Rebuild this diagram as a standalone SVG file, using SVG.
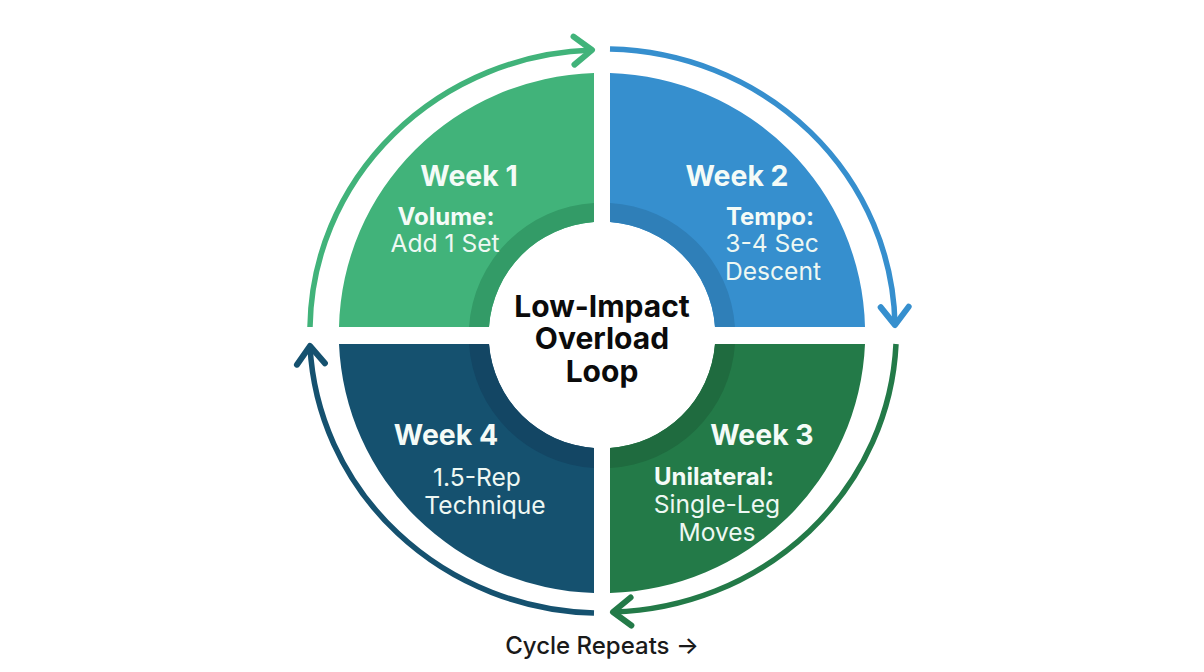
<svg xmlns="http://www.w3.org/2000/svg" width="1204" height="672" viewBox="0 0 1204 672">
<defs>
<style>
text{font-family:Inter,"Liberation Sans",sans-serif;text-anchor:middle}
.wk{font-size:28.4px;font-weight:700;fill:#f4fbf7}
.hd{font-size:24px;font-weight:700;fill:#f4fbf7}
.bd{font-size:24.6px;font-weight:400;fill:#eef8f3}
.ct{font-size:30px;font-weight:700;fill:#0b0b0b}
.cy{font-size:24px;font-weight:500;fill:#1a1a1a}
.arc{fill:none;stroke-width:5.5}
.hdp{fill:none;stroke-width:6;stroke-linecap:round;stroke-linejoin:round}
</style>
<marker id="mg" markerUnits="userSpaceOnUse" markerWidth="30" markerHeight="40" refX="25" refY="20" orient="auto" viewBox="0 0 30 40"><path class="hdp" stroke="#41b37a" d="M7 6L25 20L7 34"/></marker>
<marker id="mb" markerUnits="userSpaceOnUse" markerWidth="30" markerHeight="40" refX="25" refY="20" orient="auto" viewBox="0 0 30 40"><path class="hdp" stroke="#368fce" d="M7 6L25 20L7 34"/></marker>
<marker id="md" markerUnits="userSpaceOnUse" markerWidth="30" markerHeight="40" refX="25" refY="20" orient="auto" viewBox="0 0 30 40"><path class="hdp" stroke="#237a48" d="M7 6L25 20L7 34"/></marker>
<marker id="mn" markerUnits="userSpaceOnUse" markerWidth="30" markerHeight="40" refX="25" refY="20" orient="auto" viewBox="0 0 30 40"><path class="hdp" stroke="#15516f" d="M7 6L25 20L7 34"/></marker>
</defs>
<rect width="1204" height="672" fill="#fff"/>
<g id="connectors">
<path class="arc" stroke="#41b37a" marker-end="url(#mg)" d="M310 327A292 281 0 0 1 592 50"/>
<path class="arc" stroke="#368fce" marker-end="url(#mb)" d="M610 49A292 281 0 0 1 895 325"/>
<path class="arc" stroke="#237a48" marker-end="url(#md)" d="M896 344A292 281 0 0 1 613 612"/>
<path class="arc" stroke="#15516f" marker-end="url(#mn)" d="M594 613A292 281 0 0 1 310 346"/>
</g>
<g id="week1">
<path fill="#41b37a" d="M594 73V222A113 113 0 0 0 489 327H339A263 260 0 0 1 594 73Z"/>
<path fill="#339b67" d="M594 203V222A113 113 0 0 0 489 327H469A133 133 0 0 1 594 203Z"/>
<text class="wk" x="469" y="186">Week 1</text>
<text class="hd" x="446" y="225">Volume:</text>
<text class="bd" x="445" y="252">Add 1 Set</text>
</g>
<g id="week2">
<path fill="#368fce" d="M610 73V222A113 113 0 0 1 715 327H865A263 260 0 0 0 610 73Z"/>
<path fill="#2f7fb8" d="M610 203V222A113 113 0 0 1 715 327H735A133 133 0 0 0 610 203Z"/>
<text class="wk" x="737" y="186">Week 2</text>
<text class="hd" x="770" y="225">Tempo:</text>
<text class="bd" x="772" y="252">3-4 Sec</text>
<text class="bd" x="773" y="280">Descent</text>
</g>
<g id="week3">
<path fill="#237a48" d="M610 593V448A113 113 0 0 0 715 344H865A263 260 0 0 1 610 593Z"/>
<path fill="#1f6b3f" d="M610 468V448A113 113 0 0 0 715 344H735A133 133 0 0 1 610 468Z"/>
<text class="wk" x="762" y="445">Week 3</text>
<text class="hd" x="714" y="485">Unilateral:</text>
<text class="bd" x="717" y="513">Single-Leg</text>
<text class="bd" x="717" y="541">Moves</text>
</g>
<g id="week4">
<path fill="#15516f" d="M594 593V448A113 113 0 0 1 489 344H339A263 260 0 0 0 594 593Z"/>
<path fill="#134664" d="M594 468V448A113 113 0 0 1 489 344H469A133 133 0 0 0 594 468Z"/>
<text class="wk" x="446" y="445">Week 4</text>
<text class="bd" x="477" y="486">1.5-Rep</text>
<text class="bd" x="485" y="514">Technique</text>
</g>
<g id="center">
<text class="ct" x="602" y="317">Low-Impact</text>
<text class="ct" x="602" y="349">Overload</text>
<text class="ct" x="602" y="382">Loop</text>
</g>
<g id="caption">
<text class="cy" x="602" y="654">Cycle Repeats →</text>
</g>
</svg>
